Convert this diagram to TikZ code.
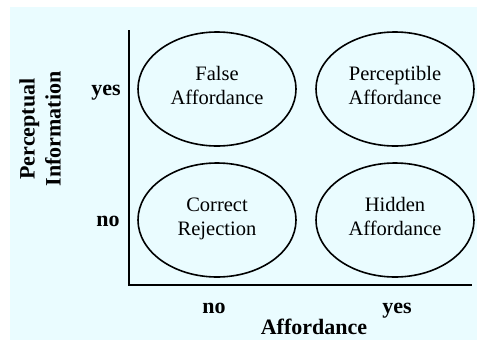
\documentclass[tikz,border=0pt]{standalone}
\usepackage{fontspec}
\setmainfont{Liberation Serif}
\usepackage{xcolor}
\usetikzlibrary{positioning,shapes.geometric}
\definecolor{paleblue}{RGB}{234,252,255}

\tikzset{
  cell/.style={draw, ellipse, line width=1.6pt, minimum width=158pt, minimum height=114pt,
    inner sep=0pt, align=center, font=\fontsize{20.5}{24}\selectfont,
    execute at begin node=\strut, execute at end node=\strut},
  axislabel/.style={font=\fontsize{22}{26}\selectfont\bfseries, inner sep=0pt, anchor=base}
}

\begin{document}
\begin{tikzpicture}[x=1pt,y=-1pt]
\useasboundingbox (0,0) rectangle (477,341);
\fill[paleblue] (10,7) rectangle (477,340);

% axes
\coordinate (ytop) at (129,30);
\coordinate (xend) at (472,285);
\draw[line width=1.8pt] (ytop) |- (xend);

% the four cells
\node[cell] (falseaff) at (217,89) {False\\Affordance};
\node[cell] (percaff) at (395,89) {Perceptible\\Affordance};
\node[cell] (correct) at (217,220) {Correct\\Rejection};
\node[cell] (hiddenaff) at (395,220) {Hidden\\Affordance};

% axis labels
\node[axislabel] (yyes) at (106,95) {yes};
\node[axislabel] (yno) at (108,226) {no};
\node[axislabel] (xno) at (214,313) {no};
\node[axislabel] (xyes) at (397,313) {yes};
\node[axislabel] (xtitle) at (314,334) {Affordance};
\node[axislabel, anchor=center, rotate=90, align=center] (ytitle) at (40,129) {Perceptual\\Information};
\end{tikzpicture}
\end{document}
